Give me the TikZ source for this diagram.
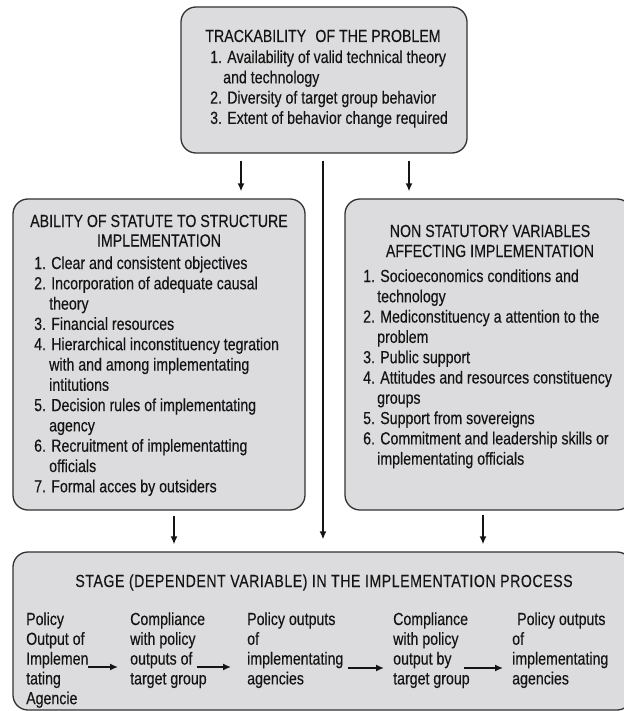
\documentclass[tikz,border=0pt]{standalone}
\usepackage{fontspec}
\setmainfont{Liberation Sans}[FakeStretch=0.81, FakeBold=0.3]
\usetikzlibrary{arrows.meta}

\definecolor{boxfill}{HTML}{DCDCDE}
\definecolor{boxline}{HTML}{333333}
\definecolor{ink}{HTML}{141414}

\newcommand\bodysize{\fontsize{17.5}{20.3}\selectfont}
\newcommand\rowsize{\fontsize{17.5}{19.8}\selectfont}
% left-aligned block of lines whose baseline is that of its first line
\newcommand\lines[1]{\begin{tabular}[t]{@{}l@{}}#1\end{tabular}}
\newcommand\wrap[1]{\hspace*{#1}}

\tikzset{
  panel/.style={draw=boxline, line width=1.3pt, fill=boxfill, rounded corners=15pt,
                inner sep=0pt},
  head/.style={anchor=base, inner sep=0pt, text=ink, font=\bodysize},
  items/.style={anchor=base west, inner sep=0pt, text=ink, font=\bodysize},
  stagetext/.style={anchor=base west, inner sep=0pt, text=ink, font=\rowsize},
  flow/.style={line width=1.5pt, draw=ink, -{Latex[length=8pt,width=7pt]}},
}

\begin{document}
\begin{tikzpicture}[x=1pt,y=-1pt]
\useasboundingbox[fill=white] (0,0) rectangle (623,711);

% ---- boxes ----
\node[panel, minimum width=286pt, minimum height=146pt] (trk) at (324,80) {};
\node[panel, minimum width=292pt, minimum height=311pt] (abl) at (159,354.5) {};
\node[panel, minimum width=287pt, minimum height=311pt] (nsv) at (488.5,354.5) {};
\node[panel, minimum width=619pt, minimum height=158pt] (stg) at (322.5,631) {};

% ---- tractability of the problem ----
\node[head] (trkT) at (323,42) {TRACKABILITY\hspace{0.3em} OF THE PROBLEM};
\node[items] (trkL) at (210,63) {\lines{%
  1. Availability of valid technical theory\\
  \wrap{13pt}and technology\\
  2. Diversity of target group behavior\\
  3. Extent of behavior change required}};

% ---- ability of statute ----
\node[head] (ablT1) at (159,227) {ABILITY OF STATUTE TO STRUCTURE};
\node[head] (ablT2) at (159,246.5) {IMPLEMENTATION};
\node[items] (ablL) at (34,269) {\lines{%
  1. Clear and consistent objectives\\
  2. Incorporation of adequate causal\\
  \wrap{15pt}theory\\
  3. Financial resources\\
  4. Hierarchical inconstituency tegration\\
  \wrap{15pt}with and among implementating\\
  \wrap{15pt}intitutions\\
  5. Decision rules of implementating\\
  \wrap{15pt}agency\\
  6. Recruitment of implementatting\\
  \wrap{15pt}officials\\
  7. Formal acces by outsiders}};

% ---- non statutory variables ----
\node[head] (nsvT1) at (490,237) {NON STATUTORY VARIABLES};
\node[head] (nsvT2) at (490,257) {AFFECTING IMPLEMENTATION};
\node[items] (nsvL) at (363,282) {\lines{%
  1. Socioeconomics conditions and\\
  \wrap{14pt}technology\\
  2. Mediconstituency a attention to the\\
  \wrap{14pt}problem\\
  3. Public support\\
  4. Attitudes and resources constituency\\
  \wrap{14pt}groups\\
  5. Support from sovereigns\\
  6. Commitment and leadership skills or\\
  \wrap{14pt}implementating officials}};

% ---- stage in the implementation process ----
\node[head] (stgT) at (324,587) {\addfontfeature{LetterSpace=3}STAGE (DEPENDENT VARIABLE) IN THE IMPLEMENTATION PROCESS};
\node[stagetext] (c1) at (26,625)  {\lines{Policy\\ Output of\\ Implemen\\ tating\\ Agencie}};
\node[stagetext] (c2) at (130,625) {\lines{Compliance\\ with policy\\ outputs of\\ target group}};
\node[stagetext] (c3) at (247,625) {\lines{Policy outputs\\ of\\ implementating\\ agencies}};
\node[stagetext] (c4) at (393,625) {\lines{Compliance\\ with policy\\ output by\\ target group}};
\node[stagetext] (c5) at (512,625) {\lines{\wrap{5pt}Policy outputs\\ of\\ implementating\\ agencies}};

% ---- connectors between the boxes ----
\coordinate (xl) at (241,0);
\coordinate (xm) at (323,0);
\coordinate (xr) at (409,0);
\coordinate (xa) at (174,0);
\coordinate (xn) at (483,0);
\draw[flow, shorten <=7pt, shorten >=7pt] (xl |- trk.south) -- (xl |- abl.north);
\draw[flow, shorten <=7pt, shorten >=7pt] (xr |- trk.south) -- (xr |- nsv.north);
\draw[flow, shorten <=7pt, shorten >=12pt] (xm |- trk.south) -- (xm |- stg.north);
\draw[flow, shorten <=5pt, shorten >=7pt] (xa |- abl.south) -- (xa |- stg.north);
\draw[flow, shorten <=4pt, shorten >=7pt] (xn |- nsv.south) -- (xn |- stg.north);

% ---- arrows along the process ----
\coordinate (f1a) at (88,667);  \coordinate (f1b) at (118,667);
\coordinate (f2a) at (197,667); \coordinate (f2b) at (231,667);
\coordinate (f3a) at (348,668); \coordinate (f3b) at (384,668);
\coordinate (f4a) at (464,668); \coordinate (f4b) at (503,668);
\draw[flow] (f1a) -- (f1b);
\draw[flow] (f2a) -- (f2b);
\draw[flow] (f3a) -- (f3b);
\draw[flow] (f4a) -- (f4b);
\end{tikzpicture}
\end{document}
